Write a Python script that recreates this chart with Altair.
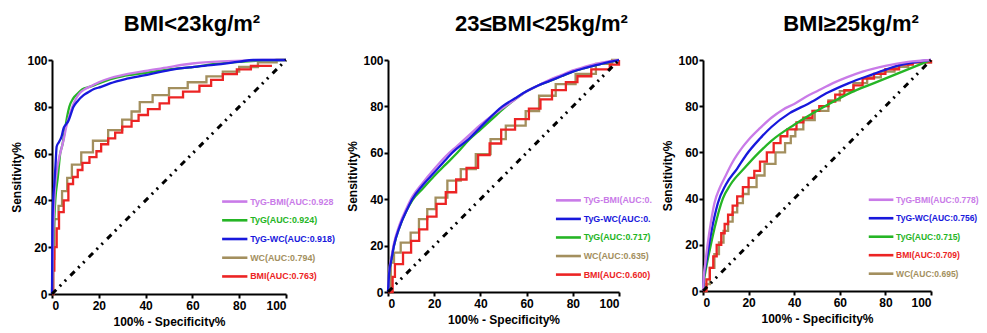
import altair as alt
import pandas as pd

FONT = "Liberation Sans"

SERIES = ["TyG-BMI", "TyG", "TyG-WC", "WC", "BMI"]
COLORS = ["#C97BE8", "#25B525", "#1818DC", "#A38F5E", "#EC2424"]

TITLES = ["BMI<23kg/m²", "23≤BMI<25kg/m²", "BMI≥25kg/m²"]
AXIS_TICKS = [0, 20, 40, 60, 80, 100]
DIAG_X = [0, 100]
DIAG_Y = [0, 100]

# ---------------- Panel 1 : BMI<23 ----------------
P1_TYGBMI_X = [0, 0.5, 1, 2, 3, 4, 5, 6, 8, 10, 12, 14, 17, 20, 25, 30, 35, 40, 50, 60, 75, 90, 100]
P1_TYGBMI_Y = [0, 25, 40, 52, 58, 62, 66, 71, 78, 83, 86, 87.5, 89, 90.5, 92.3, 93.5, 94.5, 95.3, 97, 98.5, 99.5, 100, 100]
P1_TYG_X = [0, 0.3, 0.8, 1.4, 2.5, 3.5, 4.5, 5.5, 6.5, 7.4, 9, 11.3, 13, 16, 20, 25, 30, 40, 50, 60, 70, 80, 90, 100]
P1_TYG_Y = [0, 15, 28, 40, 50, 60, 64, 70, 76, 80, 83.5, 86, 87.5, 88.5, 90, 91.8, 93, 94.5, 96, 97, 98.3, 99.2, 99.8, 100]
P1_TYGWC_X = [0, 0.2, 0.5, 1, 1.5, 2, 3, 4, 5, 6, 7, 9.2, 11, 13.5, 16, 17.7, 21, 24.8, 32, 42, 52, 60, 70, 80, 86, 100]
P1_TYGWC_Y = [0, 30, 40, 47, 55, 63, 65, 67, 71, 72.5, 74, 80, 82.5, 85, 86.5, 87.5, 88.5, 90, 92, 94, 96, 97, 98, 99.3, 100, 100]
P1_WC_X = [0, 0.5, 1, 2.8, 4.3, 6.5, 8.5, 12.5, 17.5, 24, 30, 34, 37.5, 43, 50, 58, 66, 73, 80, 88, 96, 100]
P1_WC_Y = [0, 15, 32, 37.7, 44, 49.6, 55.3, 60.5, 65.5, 70, 74.5, 78, 82, 85, 88, 90.5, 93, 95, 97, 99, 100, 100]
P1_BMI_X = [0, 0.5, 1, 2, 3, 5, 7, 9, 11, 13, 16, 19, 21, 24, 27, 30, 34, 37, 41, 46, 50, 56, 63, 68, 73, 79, 85, 94]
P1_BMI_Y = [0, 10, 20, 28, 35, 40, 47, 50, 53, 56, 58.5, 61, 64, 66.5, 69, 71.5, 74, 76.5, 79, 81.5, 84, 86.5, 89, 91.5, 94, 96, 97.5, 97.5]
LEGEND1_SERIES = ["TyG-BMI", "TyG", "TyG-WC", "WC", "BMI"]
LEGEND1_LABELS = ["TyG-BMI(AUC:0.928", "TyG(AUC:0.924)", "TyG-WC(AUC:0.918)", "WC(AUC:0.794)", "BMI(AUC:0.763)"]

# ---------------- Panel 2 : 23<=BMI<25 ----------------
P2_TYGBMI_X = [0, 0.5, 1.5, 2.6, 5, 8, 10.5, 15, 20, 25, 30, 35, 40, 45, 50, 55, 60, 65, 70, 75, 80, 85, 90, 95, 100]
P2_TYGBMI_Y = [0, 9, 15, 21, 29, 36, 41, 47, 53, 58.5, 63, 67.5, 72, 76, 79.5, 83, 86.5, 89, 91.5, 93.5, 95.5, 97, 98.3, 99.3, 100]
P2_TYGWC_X = [0, 0.5, 1.5, 2.6, 5, 8, 10.5, 15, 20, 25, 27.8, 35, 42, 49.5, 55, 60, 65, 70, 75, 80, 85, 90, 95, 100]
P2_TYGWC_Y = [0, 8, 14, 20, 28, 35, 40, 46, 51.5, 57, 60, 66, 73, 80, 83.5, 86.5, 89, 91, 93, 95, 96.5, 97.8, 99, 100]
P2_TYG_X = [0, 0.5, 1.5, 2.6, 5, 8, 10.5, 15, 20, 25, 30, 35, 40, 45, 50, 55, 60, 65, 70, 75, 80, 85, 90, 95, 100]
P2_TYG_Y = [0, 8, 14, 20, 28, 35, 39.5, 44.5, 50, 55, 60, 65.5, 70, 74.5, 79, 83, 86.5, 89, 91, 93, 95, 96.5, 97.8, 99, 100]
P2_WC_X = [0, 1.2, 2.6, 5.5, 9.8, 13.4, 17, 20.6, 25.7, 31.5, 38, 44.4, 51, 59.6, 65.4, 72.6, 81.2, 90, 97, 100]
P2_WC_Y = [0, 12.7, 17, 21.3, 25.6, 31.4, 35.7, 40.7, 48, 53, 59.4, 65.9, 71.7, 78, 84.6, 89.6, 94, 98.3, 100, 100]
P2_BMI_X = [0, 2, 3, 6.5, 10, 13.5, 17, 21, 25, 29.5, 34, 39, 44, 49, 55, 61, 66, 71, 77, 82, 88, 96, 100]
P2_BMI_Y = [0, 6.5, 12, 17, 22, 27, 32.5, 38, 43, 48.5, 53.5, 59, 64, 70, 74.5, 79, 83, 87, 90.5, 93, 96, 98, 100]
LEGEND2_SERIES = ["TyG-BMI", "TyG-WC", "TyG", "WC", "BMI"]
LEGEND2_LABELS = ["TyG-BMI(AUC:0.", "TyG-WC(AUC:0.", "TyG(AUC:0.717)", "WC(AUC:0.635)", "BMI(AUC:0.600)"]

# ---------------- Panel 3 : BMI>=25 ----------------
P3_TYGBMI_X = [0, 0.5, 1, 2, 3.5, 5, 7.5, 10, 12.5, 15, 17.5, 20, 25, 30, 35, 40, 45, 50, 57, 63, 70, 80, 90, 100]
P3_TYGBMI_Y = [0, 8, 12, 20, 30, 38, 45, 50, 55, 59, 62.5, 65.5, 70.5, 75, 78.5, 81, 84, 86.5, 90, 92.5, 95, 97.5, 99.2, 100]
P3_TYGWC_X = [0, 0.5, 1, 3, 5, 6.5, 10, 15, 19, 25, 30, 38, 46, 55, 64, 75, 85, 100]
P3_TYGWC_Y = [0, 7, 10, 22, 32, 38, 46, 53, 59, 66, 71, 77, 81, 86, 90, 94, 97.5, 100]
P3_TYG_X = [0, 0.5, 1, 3, 5, 8.7, 12, 18, 24.6, 30, 40, 53.5, 65, 75, 85, 95, 100]
P3_TYG_Y = [0, 5, 8, 18, 27, 40, 46, 53, 60, 65, 72, 80, 86, 90, 94, 98, 100]
P3_BMI_X = [0, 1.5, 3, 4.5, 6, 8, 9.5, 11, 13, 15, 17.5, 20, 22.5, 25, 28, 31, 34, 37, 41, 44, 48, 51, 55, 58, 62, 66, 70, 75, 80, 86, 92, 100]
P3_BMI_Y = [0, 5, 10, 15, 20, 25, 29, 33, 37, 41, 45, 49, 52, 56, 60, 64, 67, 70, 73, 75, 78, 80, 82, 85, 87, 89, 92, 94, 96, 98, 99, 100]
P3_WC_X = [0, 1.5, 3, 5, 7, 9, 11, 13, 15, 17.5, 20, 23.5, 27, 31.8, 36, 38.5, 40.5, 44, 49, 55, 60, 66, 72, 78, 84, 90, 100]
P3_WC_Y = [0, 3, 10, 16, 21, 26, 30, 34, 38, 42, 45, 50, 55, 60, 64, 67, 70, 74, 78, 82.5, 86.5, 90, 92.5, 95, 97, 99, 100]
LEGEND3_SERIES = ["TyG-BMI", "TyG-WC", "TyG", "BMI", "WC"]
LEGEND3_LABELS = ["TyG-BMI(AUC:0.778)", "TyG-WC(AUC:0.756)", "TyG(AUC:0.715)", "BMI(AUC:0.709)", "WC(AUC:0.695)"]

color_scale = alt.Scale(domain=SERIES, range=COLORS)
x_scale = alt.Scale(domain=[0, 100], nice=False)
y_scale = alt.Scale(domain=[0, 100], nice=False)


def axis(title, is_y):
    return alt.Axis(
        title=title, values=AXIS_TICKS, grid=False,
        domainColor="black", domainWidth=2, tickColor="black", tickWidth=2, tickSize=4,
        labelFont=FONT, labelFontSize=12, labelFontWeight="bold", labelColor="black",
        labelPadding=1 if is_y else 2,
        titleFont=FONT, titleFontSize=12, titleFontWeight="bold", titleColor="black",
        titlePadding=3 if is_y else 5,
    )


X_AXIS = axis("100% - Specificity%", False)
Y_AXIS = axis("Sensitivity%", True)


def make_panel(title, curves, leg_series, leg_labels, width, height, dx, leg_font):
    layers = []
    for series, cx, cy, step in curves:
        df = pd.DataFrame({"x": cx, "y": cy, "series": series})
        layers.append(
            alt.Chart(df).mark_line(
                interpolate="step-after" if step else "monotone", strokeWidth=2.3
            ).encode(
                x=alt.X("x:Q", scale=x_scale, axis=X_AXIS),
                y=alt.Y("y:Q", scale=y_scale, axis=Y_AXIS),
                color=alt.Color("series:N", scale=color_scale, legend=None),
            )
        )
    diag = alt.Chart(pd.DataFrame({"x": DIAG_X, "y": DIAG_Y})).mark_line(
        color="black", strokeWidth=3, strokeDash=[6, 5, 2, 5, 2, 6]
    ).encode(x=alt.X("x:Q", scale=x_scale, axis=X_AXIS), y=alt.Y("y:Q", scale=y_scale, axis=Y_AXIS))
    layers.append(diag)

    leg = pd.DataFrame({"series": leg_series, "label": leg_labels})
    leg["y"] = [39.5 - 8 * i for i in range(len(leg))]
    leg["x0"] = 72.7
    leg["x1"] = 83.5
    leg["xt"] = 84.7
    rules = alt.Chart(leg).mark_rule(strokeWidth=2.6).encode(
        x=alt.X("x0:Q", scale=x_scale, axis=X_AXIS), x2="x1:Q",
        y=alt.Y("y:Q", scale=y_scale, axis=Y_AXIS),
        color=alt.Color("series:N", scale=color_scale, legend=None),
    )
    texts = alt.Chart(leg).mark_text(
        align="left", baseline="middle", font=FONT, fontSize=leg_font, fontWeight="bold"
    ).encode(
        x=alt.X("xt:Q", scale=x_scale, axis=X_AXIS),
        y=alt.Y("y:Q", scale=y_scale, axis=Y_AXIS),
        text="label:N",
        color=alt.Color("series:N", scale=color_scale, legend=None),
    )
    layers += [rules, texts]
    return alt.layer(*layers).properties(
        width=width, height=height,
        title=alt.TitleParams(text=title, font=FONT, fontSize=22, fontWeight="bold",
                              color="black", anchor="middle", dx=dx, offset=18),
    )


def spacer(w):
    return alt.Chart(pd.DataFrame({"v": [0]})).mark_point(opacity=0).encode(
        x=alt.value(0), y=alt.value(0)
    ).properties(width=w, height=10)


p1 = make_panel(TITLES[0], [
    ("WC", P1_WC_X, P1_WC_Y, True),
    ("BMI", P1_BMI_X, P1_BMI_Y, True),
    ("TyG", P1_TYG_X, P1_TYG_Y, False),
    ("TyG-BMI", P1_TYGBMI_X, P1_TYGBMI_Y, False),
    ("TyG-WC", P1_TYGWC_X, P1_TYGWC_Y, False),
], LEGEND1_SERIES, LEGEND1_LABELS, 234, 234, 23, 8.9)

p2 = make_panel(TITLES[1], [
    ("WC", P2_WC_X, P2_WC_Y, True),
    ("BMI", P2_BMI_X, P2_BMI_Y, True),
    ("TyG", P2_TYG_X, P2_TYG_Y, False),
    ("TyG-BMI", P2_TYGBMI_X, P2_TYGBMI_Y, False),
    ("TyG-WC", P2_TYGWC_X, P2_TYGWC_Y, False),
], LEGEND2_SERIES, LEGEND2_LABELS, 231, 232, 38, 8.9)

p3 = make_panel(TITLES[2], [
    ("WC", P3_WC_X, P3_WC_Y, True),
    ("BMI", P3_BMI_X, P3_BMI_Y, True),
    ("TyG", P3_TYG_X, P3_TYG_Y, False),
    ("TyG-WC", P3_TYGWC_X, P3_TYGWC_Y, False),
    ("TyG-BMI", P3_TYGBMI_X, P3_TYGBMI_Y, False),
], LEGEND3_SERIES, LEGEND3_LABELS, 228, 231, 34, 8.5)

chart = alt.hconcat(
    p1, spacer(102), p2, spacer(84), p3, spacing=0, bounds="flush"
).properties(
    padding={"left": 2, "top": 5, "right": 0, "bottom": 0}
).configure_view(stroke=None)

chart.save("out.html", embed_options={"renderer": "svg", "actions": False})
